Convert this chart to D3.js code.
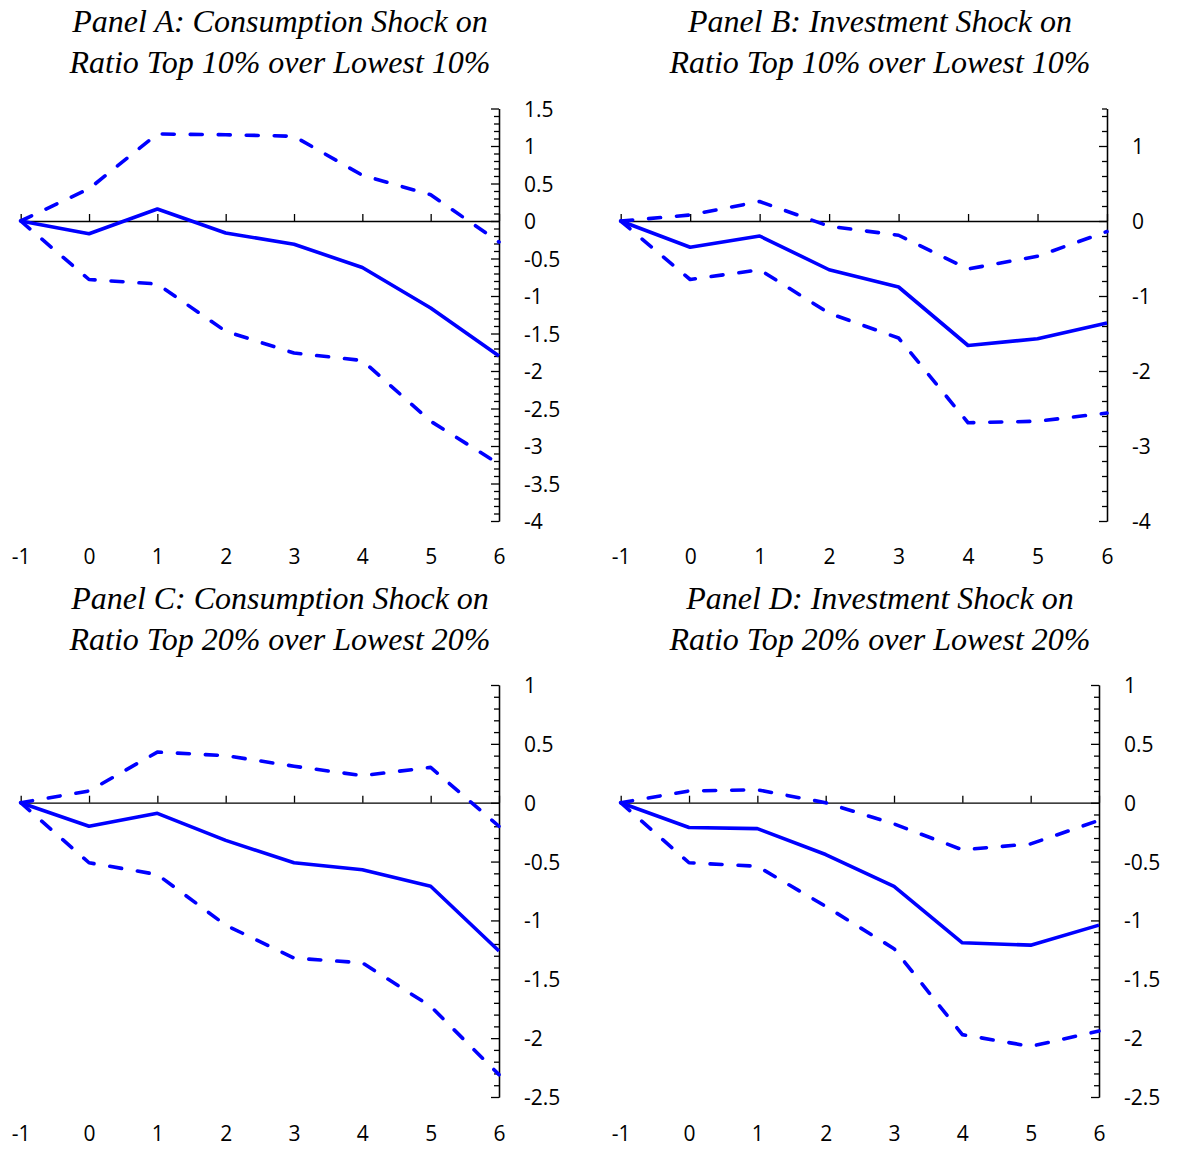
<!DOCTYPE html>
<html>
<head>
<meta charset="utf-8">
<script src="https://cdn.jsdelivr.net/npm/d3@7"></script>
<style>
  body { margin: 0; background: #fff; }
  svg { display: block; }
</style>
</head>
<body>
<script>
const w = 1177;
const h = 1149;

// horizon (quarters after shock)
const horizon = [-1, 0, 1, 2, 3, 4, 5, 6];

// Panel A: consumption shock, top 10% / lowest 10%
const aMean  = [0, -0.17, 0.16, -0.16, -0.31, -0.62, -1.16, -1.80];
const aUpper = [0, 0.43, 1.16, 1.15, 1.13, 0.61, 0.35, -0.28];
const aLower = [0, -0.78, -0.84, -1.47, -1.76, -1.86, -2.67, -3.24];

// Panel B: investment shock, top 10% / lowest 10%
const bMean  = [0, -0.35, -0.20, -0.65, -0.88, -1.66, -1.57, -1.36];
const bUpper = [0, 0.08, 0.26, -0.07, -0.19, -0.64, -0.47, -0.14];
const bLower = [0, -0.78, -0.65, -1.23, -1.56, -2.69, -2.67, -2.56];

// Panel C: consumption shock, top 20% / lowest 20%
const cMean  = [0, -0.20, -0.09, -0.32, -0.51, -0.57, -0.71, -1.26];
const cUpper = [0, 0.10, 0.43, 0.40, 0.31, 0.23, 0.30, -0.20];
const cLower = [0, -0.51, -0.61, -1.04, -1.32, -1.36, -1.73, -2.31];

// Panel D: investment shock, top 20% / lowest 20%
const dMean  = [0, -0.21, -0.22, -0.44, -0.71, -1.19, -1.21, -1.04];
const dUpper = [0, 0.10, 0.11, 0.00, -0.18, -0.40, -0.35, -0.15];
const dLower = [0, -0.51, -0.54, -0.88, -1.24, -1.97, -2.07, -1.94];

// y tick labels
const ticksA = [1.5, 1, 0.5, 0, -0.5, -1, -1.5, -2, -2.5, -3, -3.5, -4];
const ticksB = [1, 0, -1, -2, -3, -4];
const ticksCD = [1, 0.5, 0, -0.5, -1, -1.5, -2, -2.5];

const titles = [
    ["Panel A: Consumption Shock on", "Ratio Top 10% over Lowest 10%"],
    ["Panel B: Investment Shock on", "Ratio Top 10% over Lowest 10%"],
    ["Panel C: Consumption Shock on", "Ratio Top 20% over Lowest 20%"],
    ["Panel D: Investment Shock on", "Ratio Top 20% over Lowest 20%"]
];

const labelFont = "'Open Sans', 'Noto Sans', sans-serif";
const titleFont = "'Liberation Serif', 'Times New Roman', serif";

const svg = d3.select("body").append("svg").attr("width", w).attr("height", h);

const panels = [
    { title: titles[0], mean: aMean, upper: aUpper, lower: aLower,
      xr: [20.7, 499], yd: [-4, 1.5], yr: [521, 108.5], major: ticksA, minorStep: 0.1,
      titleX: 280, titleY: 21, labelY: 556 },
    { title: titles[1], mean: bMean, upper: bUpper, lower: bLower,
      xr: [620.7, 1107], yd: [-4, 1.5], yr: [521, 108.5], major: ticksB, minorStep: 0.2,
      titleX: 880, titleY: 21, labelY: 556 },
    { title: titles[2], mean: cMean, upper: cUpper, lower: cLower,
      xr: [20.7, 499], yd: [-2.5, 1], yr: [1097, 685], major: ticksCD, minorStep: 0.1,
      titleX: 280, titleY: 598, labelY: 1133 },
    { title: titles[3], mean: dMean, upper: dUpper, lower: dLower,
      xr: [620.7, 1099], yd: [-2.5, 1], yr: [1097, 685], major: ticksCD, minorStep: 0.1,
      titleX: 880, titleY: 598, labelY: 1133 }
];

panels.forEach(drawPanel);

function drawPanel(p) {
    const xScale = d3.scaleLinear().domain([-1, 6]).range(p.xr);
    const yScale = d3.scaleLinear().domain(p.yd).range(p.yr);
    const g = svg.append("g");

    // title
    const t = g.append("text")
        .attr("x", p.titleX)
        .attr("text-anchor", "middle")
        .attr("font-family", titleFont)
        .attr("font-style", "italic")
        .attr("font-size", 32)
        .attr("fill", "#000");
    t.append("tspan").attr("x", p.titleX).attr("y", p.titleY).attr("dy", "0.33em").text(p.title[0]);
    t.append("tspan").attr("x", p.titleX).attr("y", p.titleY + 41).attr("dy", "0.33em").text(p.title[1]);

    // minor ticks from axis min, plus the axis end
    const minor = d3.range(0, Math.round((p.yd[1] - p.yd[0]) / p.minorStep) + 1)
        .map(function (i) { return +(p.yd[0] + i * p.minorStep).toFixed(2); })
        .filter(function (v) { return v <= p.yd[1] && p.major.indexOf(v) < 0; });
    if (minor.indexOf(p.yd[1]) < 0 && p.major.indexOf(p.yd[1]) < 0) minor.push(p.yd[1]);

    const x6 = xScale(6);

    g.append("g")
        .attr("transform", "translate(" + x6 + ",0)")
        .call(d3.axisLeft(yScale).tickValues(minor).tickSize(5).tickSizeOuter(0).tickFormat(""))
        .call(styleAxis);

    g.append("g")
        .attr("transform", "translate(" + x6 + ",0)")
        .call(d3.axisLeft(yScale).tickValues(p.major).tickSize(8).tickSizeOuter(0).tickFormat(""))
        .call(styleAxis);

    // y labels on the right
    const yLab = g.append("g")
        .attr("transform", "translate(" + x6 + ",0)")
        .call(d3.axisRight(yScale).tickValues(p.major).tickSize(0).tickPadding(25)
            .tickFormat(function (d) { return String(d); }));
    yLab.select(".domain").remove();
    yLab.selectAll("text")
        .attr("font-family", labelFont)
        .attr("font-size", 21)
        .attr("fill", "#000")
        .attr("dy", "0.36em");

    // x axis at zero, ticks upwards
    g.append("g")
        .attr("transform", "translate(0," + yScale(0) + ")")
        .call(d3.axisTop(xScale).tickValues(horizon).tickSize(7).tickSizeOuter(0).tickFormat(""))
        .call(styleAxis);

    // x labels below the panel
    const xLab = g.append("g")
        .attr("transform", "translate(0," + p.labelY + ")")
        .call(d3.axisBottom(xScale).tickValues(horizon).tickSize(0).tickPadding(0)
            .tickFormat(function (d) { return String(d); }));
    xLab.select(".domain").remove();
    xLab.selectAll("text")
        .attr("font-family", labelFont)
        .attr("font-size", 21)
        .attr("fill", "#000")
        .attr("y", 0)
        .attr("dy", "0.36em");

    const line = d3.line()
        .x(function (d, i) { return xScale(horizon[i]); })
        .y(function (d) { return yScale(d); });

    [p.upper, p.lower].forEach(function (s) {
        g.append("path")
            .datum(s)
            .attr("d", line)
            .attr("fill", "none")
            .attr("stroke", "#0000ff")
            .attr("stroke-width", 3.6)
            .attr("stroke-linecap", "round")
            .attr("stroke-linejoin", "round")
            .attr("stroke-dasharray", "12,16");
    });

    g.append("path")
        .datum(p.mean)
        .attr("d", line)
        .attr("fill", "none")
        .attr("stroke", "#0000ff")
        .attr("stroke-width", 3.6)
        .attr("stroke-linejoin", "round");
}

function styleAxis(sel) {
    sel.selectAll(".domain").attr("stroke", "#000").attr("stroke-width", 1.3);
    sel.selectAll(".tick line").attr("stroke", "#000").attr("stroke-width", 1.3);
}
</script>
</body>
</html>
